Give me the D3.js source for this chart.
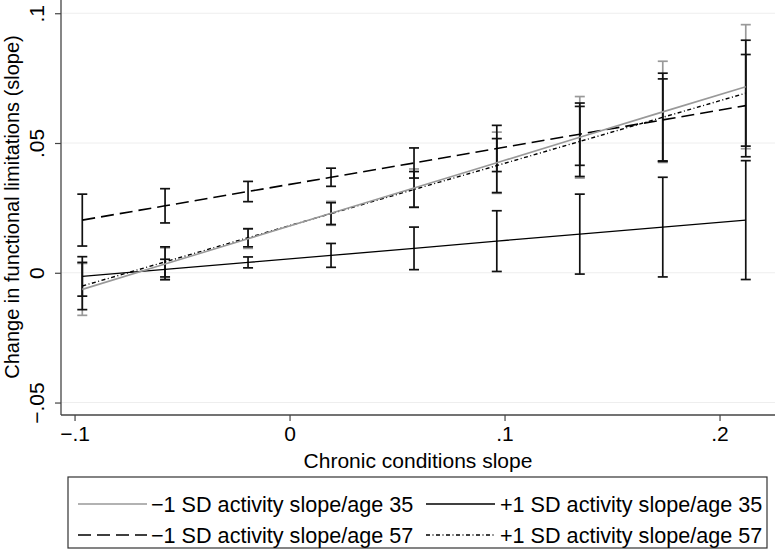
<!DOCTYPE html>
<html><head><meta charset="utf-8">
<script src="https://cdn.jsdelivr.net/npm/d3@7"></script>
<style>
body{margin:0;background:#fff;}
text{font-family:"Liberation Sans",Arial,Helvetica,sans-serif;fill:#000;}
</style></head>
<body><svg id="c" width="776" height="552"></svg>
<script>
const xVals = [-0.0964, -0.0579, -0.0193, 0.0193, 0.0579, 0.0964, 0.1350, 0.1736, 0.2122];
const xTicks = [-0.1, 0, 0.1, 0.2];
const xTickLabels = ["\u2212.1", "0", ".1", ".2"];
const yTicks = [-0.05, 0, 0.05, 0.1];
const yTickLabels = ["\u2212.05", "0", ".05", ".1"];
const seriesNames = ["\u22121 SD activity slope/age 35", "+1 SD activity slope/age 35", "\u22121 SD activity slope/age 57", "+1 SD activity slope/age 57"];
// -1 SD / age 35
const aMean = [-0.0064, 0.0034, 0.0131, 0.0229, 0.0327, 0.0424, 0.0522, 0.0620, 0.0717];
const aLo   = [-0.0164, -0.0028, 0.0094, 0.0183, 0.0254, 0.0306, 0.0365, 0.0425, 0.0478];
const aHi   = [0.0036, 0.0096, 0.0168, 0.0275, 0.0400, 0.0542, 0.0679, 0.0815, 0.0956];
// +1 SD / age 35
const bMean = [-0.0014, 0.0013, 0.0040, 0.0067, 0.0094, 0.0122, 0.0149, 0.0176, 0.0203];
const bLo   = [-0.0090, -0.0026, 0.0019, 0.0021, 0.0012, 0.0005, -0.0005, -0.0016, -0.0026];
const bHi   = [0.0062, 0.0052, 0.0061, 0.0113, 0.0176, 0.0239, 0.0303, 0.0368, 0.0432];
// -1 SD / age 57
const cMean = [0.0203, 0.0258, 0.0313, 0.0368, 0.0423, 0.0479, 0.0534, 0.0589, 0.0644];
const cLo   = [0.0103, 0.0192, 0.0274, 0.0333, 0.0365, 0.0390, 0.0414, 0.0431, 0.0447];
const cHi   = [0.0303, 0.0324, 0.0352, 0.0403, 0.0481, 0.0568, 0.0654, 0.0747, 0.0841];
// +1 SD / age 57
const dMean = [-0.0051, 0.0042, 0.0135, 0.0228, 0.0321, 0.0413, 0.0506, 0.0599, 0.0692];
const dLo   = [-0.0142, -0.0016, 0.0100, 0.0186, 0.0252, 0.0309, 0.0371, 0.0429, 0.0488];
const dHi   = [0.0040, 0.0100, 0.0170, 0.0270, 0.0390, 0.0517, 0.0641, 0.0769, 0.0896];

const styles = [
  {color:"#999999", width:1.6, dash:null, ci:"#999999"},
  {color:"#000000", width:1.4, dash:null, ci:"#111111"},
  {color:"#000000", width:1.6, dash:"13,6", ci:"#111111"},
  {color:"#000000", width:1.4, dash:"4,2.5,1,2.5", ci:"#111111"}
];
const series = [
  {name:seriesNames[0], mean:aMean, lo:aLo, hi:aHi, st:styles[0]},
  {name:seriesNames[1], mean:bMean, lo:bLo, hi:bHi, st:styles[1]},
  {name:seriesNames[2], mean:cMean, lo:cLo, hi:cHi, st:styles[2]},
  {name:seriesNames[3], mean:dMean, lo:dLo, hi:dHi, st:styles[3]}
];

const FS = 21;
const svg = d3.select("#c");
const L = 61, R = 775, T = 0, B = 415;
const x = d3.scaleLinear().domain([-0.1063, 0.2258]).range([L, R]);
const y = d3.scaleLinear().domain([-0.0548, 0.1051]).range([B, T]);

// gridlines
svg.append("g").selectAll("line").data(yTicks).join("line")
  .attr("x1", L).attr("x2", R).attr("y1", d=>y(d)).attr("y2", d=>y(d))
  .attr("stroke", "#eeeeee").attr("stroke-width", 1);

// error bars (gray first)
const capW = 5;
[0, 1, 2, 3].forEach(si => {
  const s = series[si];
  const g = svg.append("g").attr("stroke", s.st.ci).attr("stroke-width", 1.7).attr("fill","none");
  xVals.forEach((xv, i) => {
    g.append("line").attr("x1", x(xv)).attr("x2", x(xv)).attr("y1", y(s.lo[i])).attr("y2", y(s.hi[i]));
    g.append("line").attr("x1", x(xv)-capW).attr("x2", x(xv)+capW).attr("y1", y(s.lo[i])).attr("y2", y(s.lo[i]));
    g.append("line").attr("x1", x(xv)-capW).attr("x2", x(xv)+capW).attr("y1", y(s.hi[i])).attr("y2", y(s.hi[i]));
  });
});

// lines
const line = d3.line().x((d,i)=>x(xVals[i])).y(d=>y(d));
[1,2,3,0].forEach(si => {
  const s = series[si];
  svg.append("path").attr("d", line(s.mean)).attr("fill","none")
    .attr("stroke", s.st.color).attr("stroke-width", s.st.width)
    .attr("stroke-dasharray", s.st.dash);
});

// axes
const xAxis = svg.append("g").attr("transform", `translate(0,${B})`)
  .call(d3.axisBottom(x).tickValues(xTicks).tickSize(6).tickPadding(5).tickFormat((d,i)=>xTickLabels[i]));
xAxis.select(".domain").attr("stroke","#444").attr("stroke-width",1.3).attr("d", `M${L},0H${R}`);
xAxis.selectAll(".tick line").attr("stroke","#444").attr("stroke-width",1.2);
xAxis.selectAll(".tick text").attr("font-size", FS).attr("font-family",null);

const yAxis = svg.append("g").attr("transform", `translate(${L},0)`)
  .call(d3.axisLeft(y).tickValues(yTicks).tickSize(6).tickFormat((d,i)=>yTickLabels[i]));
yAxis.select(".domain").attr("stroke","#444").attr("stroke-width",1.3).attr("d", `M0,${T}V${B}`);
yAxis.selectAll(".tick line").attr("stroke","#444").attr("stroke-width",1.2);
yAxis.selectAll(".tick text").attr("font-size", FS).attr("font-family",null)
  .attr("x", null).attr("dy", null)
  .attr("text-anchor","middle")
  .attr("transform","translate(-17,0) rotate(-90)")
  .attr("y", 0);

// axis titles
svg.append("text").attr("x", (L+R)/2).attr("y", 468).attr("text-anchor","middle")
  .attr("font-size", FS).text("Chronic conditions slope");
svg.append("text").attr("transform", `translate(19,207) rotate(-90)`).attr("text-anchor","middle")
  .attr("font-size", 20).text("Change in functional limitations (slope)");

// legend
const lg = svg.append("g");
lg.append("rect").attr("x", 68).attr("y", 477).attr("width", 699).attr("height", 71)
  .attr("fill","#fff").attr("stroke","#333").attr("stroke-width",1.2);
const pos = [
  {sx:78, tx:151, ty:504}, {sx:426, tx:500, ty:504}, {sx:78, tx:151, ty:535}, {sx:426, tx:500, ty:535}
];
series.forEach((s, i) => {
  const p = pos[i];
  lg.append("line").attr("x1", p.sx).attr("x2", p.sx+69).attr("y1", p.ty).attr("y2", p.ty)
    .attr("stroke", s.st.color).attr("stroke-width", s.st.width).attr("stroke-dasharray", s.st.dash);
  lg.append("text").attr("x", p.tx).attr("y", p.ty).attr("dy","0.35em")
    .attr("font-size", 21.6).text(s.name);
});
</script></body></html>
